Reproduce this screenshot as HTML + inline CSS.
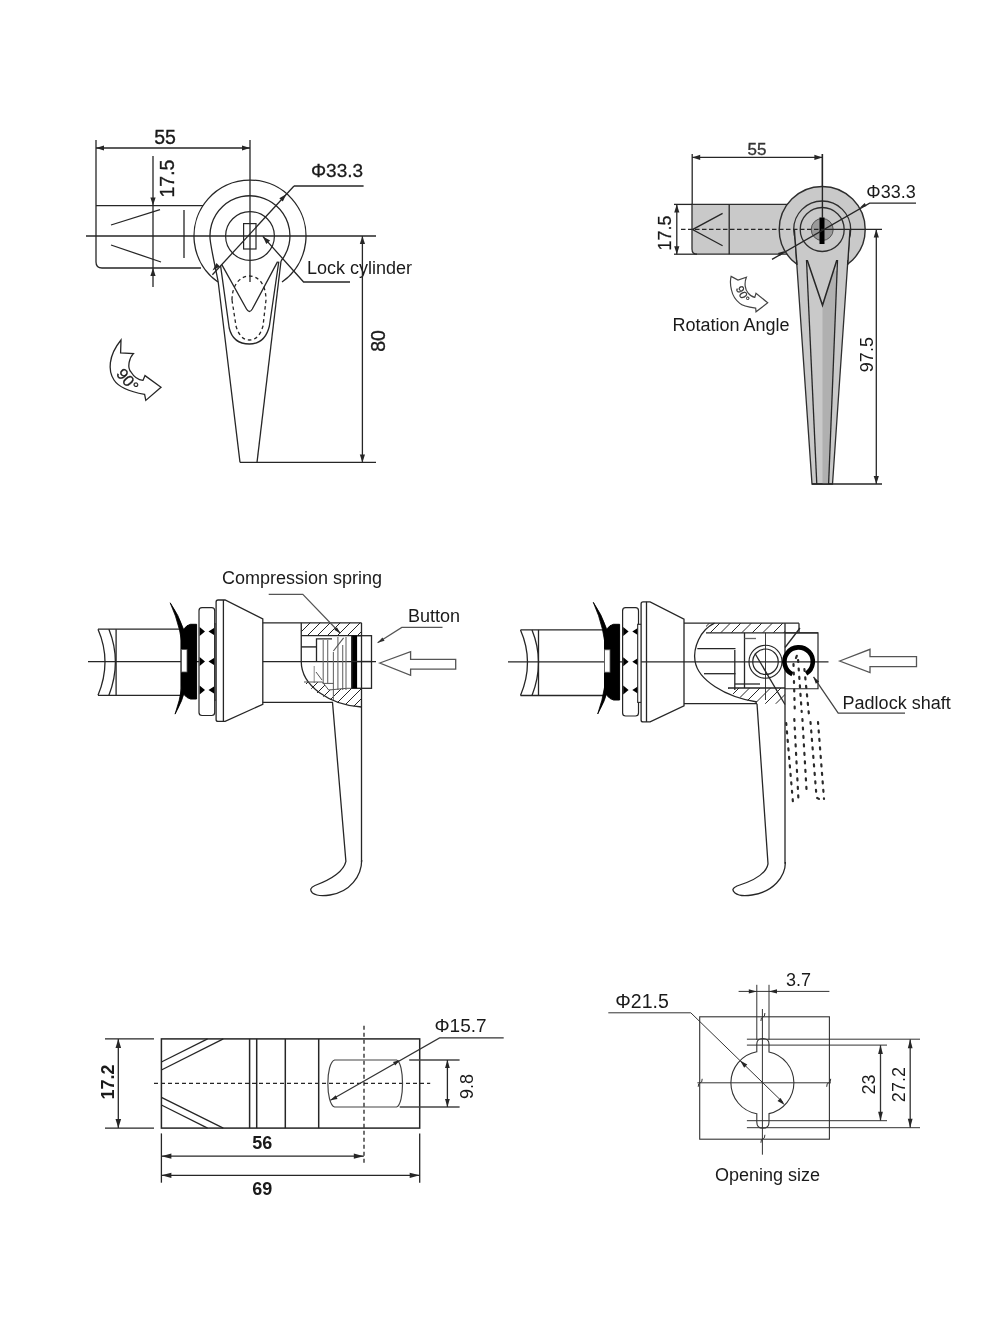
<!DOCTYPE html>
<html><head><meta charset="utf-8"><title>Lock drawing</title>
<style>html,body{margin:0;padding:0;background:#fff;} svg{display:block;will-change:transform;} text{font-family:"Liberation Sans",sans-serif;}</style>
</head><body>
<svg width="1000" height="1333" viewBox="0 0 1000 1333">
<rect width="1000" height="1333" fill="#fff"/>
<line x1="96.0" y1="140.0" x2="96.0" y2="262.0" stroke="#262626" stroke-width="1.3" />
<path d="M96,262 Q96,268 102,268 L201,268" stroke="#262626" stroke-width="1.3" fill="none" />
<line x1="96.0" y1="205.6" x2="203.0" y2="205.6" stroke="#262626" stroke-width="1.3" />
<line x1="250.0" y1="140.0" x2="250.0" y2="282.0" stroke="#262626" stroke-width="1.3" />
<line x1="96.0" y1="148.0" x2="250.0" y2="148.0" stroke="#262626" stroke-width="1.3" />
<polygon points="96.0,148.0 104.0,145.4 104.0,150.6" fill="#262626"/>
<polygon points="250.0,148.0 242.0,150.6 242.0,145.4" fill="#262626"/>
<text x="165" y="136.5" font-size="19.5" text-anchor="middle" font-weight="normal" fill="#1a1a1a" dominant-baseline="central" stroke="#1a1a1a" stroke-width="0.35">55</text>
<line x1="153.0" y1="156.0" x2="153.0" y2="287.0" stroke="#262626" stroke-width="1.3" />
<polygon points="153.0,205.6 150.4,197.6 155.6,197.6" fill="#262626"/>
<polygon points="153.0,268.0 155.6,276.0 150.4,276.0" fill="#262626"/>
<text x="166.5" y="178.5" font-size="19.5" text-anchor="middle" font-weight="normal" fill="#1a1a1a" dominant-baseline="central" transform="rotate(-90 166.5 178.5)" stroke="#1a1a1a" stroke-width="0.35">17.5</text>
<line x1="86.0" y1="236.0" x2="376.0" y2="236.0" stroke="#262626" stroke-width="1.3" />
<line x1="111.0" y1="225.0" x2="160.0" y2="209.6" stroke="#262626" stroke-width="1.3" />
<line x1="111.0" y1="245.0" x2="161.0" y2="262.0" stroke="#262626" stroke-width="1.3" />
<line x1="184.0" y1="210.0" x2="184.0" y2="258.0" stroke="#262626" stroke-width="1.3" />
<path d="M218,282 A56,56 0 1 1 282,282" stroke="#262626" stroke-width="1.3" fill="none" />
<path d="M210.6,243 A40,40 0 1 1 281,261" stroke="#262626" stroke-width="1.3" fill="none" />
<circle cx="250" cy="236" r="24.4" stroke="#262626" stroke-width="1.2" fill="none"/>
<rect x="243.6" y="223.6" width="12.4" height="25.4" stroke="#262626" stroke-width="1.2" fill="none"/>
<path d="M210.6,243 C213,258 216,270 218.2,282 L240,462.4" stroke="#262626" stroke-width="1.3" fill="none" />
<path d="M281,261 L257,462.4" stroke="#262626" stroke-width="1.3" fill="none" />
<line x1="240.0" y1="462.4" x2="376.0" y2="462.4" stroke="#262626" stroke-width="1.3" />
<path d="M220.6,265.8 L229.2,328 Q233,344 249.4,344 Q265,344 269.4,326 L278.8,261.6" stroke="#262626" stroke-width="1.3" fill="none" />
<path d="M221.8,264.6 L246.5,309 Q249.4,314 252.3,309 L277.6,261.6" stroke="#262626" stroke-width="1.3" fill="none" />
<path d="M232,300 C232,285 240,276 249.4,276 C259,276 266,285 266,300 L263,326 Q259,340 249.5,340 Q240,340 236,326 Z" stroke="#262626" stroke-width="1.3" fill="none" stroke-dasharray="3.5,3"/>
<line x1="212.4" y1="274.8" x2="294.0" y2="186.0" stroke="#262626" stroke-width="1.3" />
<line x1="294.0" y1="186.0" x2="363.6" y2="186.0" stroke="#262626" stroke-width="1.3" />
<polygon points="286.5,194.0 282.8,201.5 279.3,198.2" fill="#262626"/>
<polygon points="212.5,270.5 216.5,263.1 219.9,266.5" fill="#262626"/>
<text x="337" y="170" font-size="19" text-anchor="middle" font-weight="normal" fill="#1a1a1a" dominant-baseline="central" stroke="#1a1a1a" stroke-width="0.3">Φ33.3</text>
<path d="M262.8,236.4 L303.6,282 L350,282" stroke="#262626" stroke-width="1.3" fill="none" />
<polygon points="262.8,236.4 270.1,240.5 266.3,244.0" fill="#262626"/>
<text x="307" y="268" font-size="18" text-anchor="start" font-weight="normal" fill="#1a1a1a" dominant-baseline="central" >Lock cylinder</text>
<line x1="362.4" y1="236.0" x2="362.4" y2="462.4" stroke="#262626" stroke-width="1.3" />
<polygon points="362.4,236.0 365.0,244.0 359.8,244.0" fill="#262626"/>
<polygon points="362.4,462.4 359.8,454.4 365.0,454.4" fill="#262626"/>
<text x="377.5" y="341" font-size="19.5" text-anchor="middle" font-weight="normal" fill="#1a1a1a" dominant-baseline="central" transform="rotate(-90 377.5 341)" stroke="#1a1a1a" stroke-width="0.35">80</text>
<path d="M121,340 L120.6,352.8 L133.4,353.6 C129,358 127,368 131,372 C134,377 139,380 143,380.4 L145,375.6 L161,387.2 L145.8,400.4 L144.6,394.4 C132,392 119,388 114,380 C108,371 108,356 121,340 Z" stroke="#262626" stroke-width="1.3" fill="none" />
<text x="127.5" y="380" font-size="16" text-anchor="middle" font-weight="normal" fill="#1a1a1a" dominant-baseline="central" transform="rotate(50 127.5 380)" stroke="#1a1a1a" stroke-width="0.3">90°</text>
<line x1="692.2" y1="154.0" x2="692.2" y2="205.0" stroke="#262626" stroke-width="1.3" />
<line x1="822.4" y1="154.0" x2="822.4" y2="229.0" stroke="#262626" stroke-width="1.3" />
<line x1="692.2" y1="157.4" x2="822.4" y2="157.4" stroke="#262626" stroke-width="1.3" />
<polygon points="692.2,157.4 700.2,154.8 700.2,160.0" fill="#262626"/>
<polygon points="822.4,157.4 814.4,160.0 814.4,154.8" fill="#262626"/>
<text x="757" y="149.6" font-size="17" text-anchor="middle" font-weight="normal" fill="#333" dominant-baseline="central" stroke="#333" stroke-width="0.35">55</text>
<path d="M692,204.4 L790,204.4 L790,254.2 L697,254.2 Q692,254.2 692,249 Z" stroke="#2e2e2e" stroke-width="1.3" fill="#c9c9c9" />
<line x1="674.0" y1="204.4" x2="692.0" y2="204.4" stroke="#262626" stroke-width="1.3" />
<line x1="674.0" y1="254.2" x2="697.0" y2="254.2" stroke="#262626" stroke-width="1.3" />
<line x1="676.8" y1="204.4" x2="676.8" y2="254.2" stroke="#262626" stroke-width="1.3" />
<polygon points="676.8,204.4 679.4,212.4 674.2,212.4" fill="#262626"/>
<polygon points="676.8,254.2 674.2,246.2 679.4,246.2" fill="#262626"/>
<text x="665" y="233" font-size="18" text-anchor="middle" font-weight="normal" fill="#1a1a1a" dominant-baseline="central" transform="rotate(-90 665 233)" stroke="#1a1a1a" stroke-width="0.25">17.5</text>
<line x1="729.2" y1="204.4" x2="729.2" y2="254.2" stroke="#262626" stroke-width="1.3" />
<path d="M722.6,213.4 L692.5,229.6 L722.6,245.8" stroke="#262626" stroke-width="1.3" fill="none" />
<circle cx="822.2" cy="229.5" r="43" fill="#c9c9c9" stroke="#2e2e2e" stroke-width="1.4"/>
<path d="M794.4,229.5 L812,484 L832.5,484 L850,229.5 Z" stroke="#2e2e2e" stroke-width="1.3" fill="#c9c9c9" />
<path d="M822.5,305.3 L833.5,270.7 L837.1,270.7 L828.6,484 L822.5,484 Z" stroke="none" stroke-width="0" fill="#b0b0b0" />
<path d="M806.4,257.7 L816.8,484" stroke="#262626" stroke-width="1.3" fill="none" />
<path d="M837.6,257.7 L828.6,484" stroke="#262626" stroke-width="1.3" fill="none" />
<path d="M806.4,257.7 L822.5,305.3 L837.6,257.7" stroke="#262626" stroke-width="1.5" fill="none" />
<circle cx="822.2" cy="229.5" r="28.5" fill="#c9c9c9" stroke="#2e2e2e" stroke-width="1.3"/>
<path d="M794.4,229.5 L796.5,260 L848,260 L850,229.5 Z" stroke="none" stroke-width="0" fill="#c9c9c9" />
<path d="M794.4,229.5 L797,265" stroke="#262626" stroke-width="1.3" fill="none" />
<path d="M850,229.5 L847.6,265" stroke="#262626" stroke-width="1.3" fill="none" />
<circle cx="822.2" cy="229.5" r="22" fill="#c9c9c9" stroke="#2e2e2e" stroke-width="1.3"/>
<circle cx="822.2" cy="229.5" r="11" fill="#9a9a9a" stroke="#555" stroke-width="1"/>
<rect x="819.5" y="217.5" width="5" height="26.5" fill="#000"/>
<line x1="822.4" y1="154.0" x2="822.4" y2="218.0" stroke="#262626" stroke-width="1.4" />
<line x1="681.0" y1="229.4" x2="822.0" y2="229.4" stroke="#262626" stroke-width="1.3" stroke-dasharray="4.5,2.5"/>
<line x1="822.0" y1="229.4" x2="882.0" y2="229.4" stroke="#262626" stroke-width="1.3" />
<path d="M772,259.4 L869.6,203.2 L916,203.2" stroke="#262626" stroke-width="1.3" fill="none" />
<polygon points="859.5,208.0 864.7,203.0 866.5,206.1" fill="#262626"/>
<polygon points="784.9,251.0 779.8,256.1 777.9,253.0" fill="#262626"/>
<text x="891" y="191.6" font-size="18" text-anchor="middle" font-weight="normal" fill="#1a1a1a" dominant-baseline="central" >Φ33.3</text>
<line x1="812.0" y1="484.0" x2="882.0" y2="484.0" stroke="#262626" stroke-width="1.3" />
<line x1="876.3" y1="229.5" x2="876.3" y2="484.0" stroke="#262626" stroke-width="1.3" />
<polygon points="876.3,229.5 878.9,237.5 873.7,237.5" fill="#262626"/>
<polygon points="876.3,484.0 873.7,476.0 878.9,476.0" fill="#262626"/>
<text x="866.6" y="354.6" font-size="18" text-anchor="middle" font-weight="normal" fill="#1a1a1a" dominant-baseline="central" transform="rotate(-90 866.6 354.6)" >97.5</text>
<path d="M731.1,276.4 L738,280 L746.4,277.3 C744,283 745,290 748.2,293.2 C750,295.5 752,297 754.8,297.4 L756,293.2 L767.7,302.8 L756,311.8 L755.7,308.2 C748,307 742,305.5 739.8,303.4 C735,299.5 732.5,295 731.5,290 C730.2,285 730.2,280 731.1,276.4 Z" stroke="#444" stroke-width="1.2" fill="none" />
<text x="743" y="294" font-size="11" text-anchor="middle" font-weight="normal" fill="#333" dominant-baseline="central" transform="rotate(62 743 294)" stroke="#333" stroke-width="0.3">90°</text>
<text x="731" y="325" font-size="18" text-anchor="middle" font-weight="normal" fill="#1a1a1a" dominant-baseline="central" >Rotation Angle</text>
<line x1="88.0" y1="661.6" x2="376.0" y2="661.6" stroke="#262626" stroke-width="1.3" />
<line x1="98.0" y1="629.2" x2="181.0" y2="629.2" stroke="#262626" stroke-width="1.3" />
<line x1="98.0" y1="695.3" x2="181.0" y2="695.3" stroke="#262626" stroke-width="1.3" />
<path d="M98,629.2 Q112,661.6 98,695.3" stroke="#262626" stroke-width="1.3" fill="none" />
<path d="M108.9,629.2 Q121.9,661.6 108.9,695.3" stroke="#262626" stroke-width="1.3" fill="none" />
<line x1="116.1" y1="629.2" x2="116.1" y2="695.3" stroke="#262626" stroke-width="1.3" />
<line x1="181.0" y1="629.2" x2="181.0" y2="695.3" stroke="#262626" stroke-width="1.3" />
<path d="M170.2,602.8 A104,104 0 0 1 175.1,714.1 A150,150 0 0 0 170.2,602.8 Z" stroke="#000" stroke-width="0.8" fill="#000" />
<path d="M196.6,624.3 L190.5,624.3 Q182.5,626.3 181.5,637.3 L181.5,686 Q182.5,697 190.5,699 L196.6,699 Z" stroke="#000" stroke-width="1" fill="#000" />
<rect x="181.5" y="649.6" width="5.5" height="22.4" fill="#fff" stroke="#555" stroke-width="0.8"/>
<rect x="199" y="607.7" width="15.699999999999989" height="107.79999999999995" rx="3" fill="#fff" stroke="#262626" stroke-width="1.2"/>
<polygon points="199.6,626.9 205,631.4 199.6,635.9" fill="#000"/>
<polygon points="215.5,626.9 208.5,631.4 215.5,635.9" fill="#000"/>
<polygon points="199.6,657.1 205,661.6 199.6,666.1" fill="#000"/>
<polygon points="215.5,657.1 208.5,661.6 215.5,666.1" fill="#000"/>
<polygon points="199.6,685.4 205,689.9 199.6,694.4" fill="#000"/>
<polygon points="215.5,685.4 208.5,689.9 215.5,694.4" fill="#000"/>
<rect x="214.7" y="624" width="1.4000000000000057" height="76" fill="#fff" stroke="#262626" stroke-width="1.1"/>
<path d="M216.1,602 Q216.1,600 218.1,600 L225.1,600 L262.8,618.8 L262.8,704.3 L225.1,721.4 L218.1,721.4 Q216.1,721.4 216.1,719.4 Z" stroke="#262626" stroke-width="1.3" fill="#fff" />
<line x1="223.4" y1="600.0" x2="223.4" y2="721.4" stroke="#262626" stroke-width="1.3" />
<line x1="262.8" y1="622.8" x2="361.5" y2="622.8" stroke="#262626" stroke-width="1.3" />
<line x1="262.8" y1="702.3" x2="333.0" y2="702.3" stroke="#262626" stroke-width="1.3" />
<clipPath id="h1"><path d="M301.25,622.8 L361.5,622.8 L361.5,635.7 L301.25,635.7 Z"/></clipPath>
<path clip-path="url(#h1)" d="M287.0,636.0 L301.0,622.0 M297.0,636.0 L311.0,622.0 M307.0,636.0 L321.0,622.0 M317.0,636.0 L331.0,622.0 M327.0,636.0 L341.0,622.0 M337.0,636.0 L351.0,622.0 M347.0,636.0 L361.0,622.0 M357.0,636.0 L371.0,622.0 M367.0,636.0 L381.0,622.0" stroke="#262626" stroke-width="1.0" fill="none"/>
<clipPath id="h2"><path d="M304,682 L322.4,682 L328.7,690 L346.7,688.3 L361.5,688.3 L361.5,707 C340,706 318,697 304,682 Z"/></clipPath>
<path clip-path="url(#h2)" d="M272.0,708.0 L300.0,680.0 M282.0,708.0 L310.0,680.0 M292.0,708.0 L320.0,680.0 M302.0,708.0 L330.0,680.0 M312.0,708.0 L340.0,680.0 M322.0,708.0 L350.0,680.0 M332.0,708.0 L360.0,680.0 M342.0,708.0 L370.0,680.0 M352.0,708.0 L380.0,680.0 M362.0,708.0 L390.0,680.0 M372.0,708.0 L400.0,680.0 M382.0,708.0 L410.0,680.0" stroke="#262626" stroke-width="1.0" fill="none"/>
<path d="M301.25,622.8 L301.25,661.5 C301.25,686 330,705 361.5,707" stroke="#262626" stroke-width="1.3" fill="none" />
<line x1="301.2" y1="635.7" x2="361.5" y2="635.7" stroke="#262626" stroke-width="1.3" />
<line x1="301.2" y1="646.9" x2="316.5" y2="646.9" stroke="#262626" stroke-width="1.4" />
<path d="M316.5,661.5 L316.5,638.8 L332,638.8" stroke="#262626" stroke-width="1.3" fill="none" />
<line x1="323.2" y1="640.0" x2="323.2" y2="683.0" stroke="#6a6a6a" stroke-width="1.1" />
<line x1="327.7" y1="640.0" x2="327.7" y2="683.0" stroke="#6a6a6a" stroke-width="1.1" />
<line x1="333.4" y1="652.0" x2="333.4" y2="700.0" stroke="#6a6a6a" stroke-width="1.1" />
<line x1="337.9" y1="637.0" x2="337.9" y2="690.0" stroke="#6a6a6a" stroke-width="1.1" />
<line x1="342.7" y1="645.0" x2="342.7" y2="690.0" stroke="#6a6a6a" stroke-width="1.1" />
<line x1="346.0" y1="637.0" x2="346.0" y2="690.0" stroke="#6a6a6a" stroke-width="1.1" />
<line x1="333.4" y1="651.0" x2="343.6" y2="637.8" stroke="#555" stroke-width="1.1" />
<line x1="314.2" y1="666.0" x2="314.2" y2="683.0" stroke="#888" stroke-width="1.0" />
<line x1="316.0" y1="672.0" x2="322.0" y2="680.0" stroke="#555" stroke-width="1.0" />
<line x1="322.6" y1="683.4" x2="333.4" y2="683.4" stroke="#555" stroke-width="1.0" />
<path d="M304,682 L322.4,682 L328.7,690 L346.7,688.3 L351.7,688.3" stroke="#555" stroke-width="1.0" fill="none" />
<line x1="361.5" y1="622.8" x2="361.5" y2="862.0" stroke="#262626" stroke-width="1.3" />
<rect x="351.7" y="635.7" width="19.8" height="52.6" fill="none" stroke="#262626" stroke-width="1.3"/>
<rect x="352.1" y="635.7" width="5" height="52.6" fill="#000"/>
<line x1="351.7" y1="661.5" x2="371.5" y2="661.5" stroke="#262626" stroke-width="1.3" />
<path d="M332.5,702.3 L345.9,861.4 C343,874 327,881 315,885.5 Q308,888.5 312.5,893 Q318,897 330,895 C350,892 361.7,876 361.7,860" stroke="#262626" stroke-width="1.3" fill="none" />
<path d="M268.7,594.4 L302.8,594.4 L340,633" stroke="#555" stroke-width="1.2" fill="none" />
<polygon points="340.5,633.5 334.3,629.7 336.9,627.2" fill="#222"/>
<path d="M377.6,642.8 L401.8,627.4 L442.5,627.4" stroke="#555" stroke-width="1.2" fill="none" />
<polygon points="377.6,642.8 382.4,637.4 384.6,640.7" fill="#333"/>
<polygon points="379.8,663 410.6,651.6 410.6,659.3 455.7,659.3 455.7,669.2 410.6,669.2 410.6,675.4" fill="#fff" stroke="#555" stroke-width="1.3"/>
<text x="302" y="578" font-size="18" text-anchor="middle" font-weight="normal" fill="#1a1a1a" dominant-baseline="central" >Compression spring</text>
<text x="408" y="616" font-size="18" text-anchor="start" font-weight="normal" fill="#1a1a1a" dominant-baseline="central" >Button</text>
<line x1="508.0" y1="661.8" x2="828.5" y2="661.8" stroke="#262626" stroke-width="1.3" />
<line x1="520.5" y1="629.9" x2="605.0" y2="629.9" stroke="#262626" stroke-width="1.3" />
<line x1="520.5" y1="695.5" x2="605.0" y2="695.5" stroke="#262626" stroke-width="1.3" />
<path d="M520.5,629.9 Q534.5,661.8 520.5,695.5" stroke="#262626" stroke-width="1.3" fill="none" />
<path d="M532,629.9 Q545,661.8 532,695.5" stroke="#262626" stroke-width="1.3" fill="none" />
<line x1="538.5" y1="629.9" x2="538.5" y2="695.5" stroke="#262626" stroke-width="1.3" />
<line x1="605.0" y1="629.9" x2="605.0" y2="695.5" stroke="#262626" stroke-width="1.3" />
<path d="M593.3,602.3 A104,104 0 0 1 597.7,714 A150,150 0 0 0 593.3,602.3 Z" stroke="#000" stroke-width="0.8" fill="#000" />
<path d="M619.6,624.3 L613.5,624.3 Q605.5,626.3 604.5,637.3 L604.5,687 Q605.5,698 613.5,700 L619.6,700 Z" stroke="#000" stroke-width="1" fill="#000" />
<rect x="604.5" y="649.8" width="5.5" height="22.4" fill="#fff" stroke="#555" stroke-width="0.8"/>
<rect x="622.6" y="607.7" width="15.899999999999977" height="108.29999999999995" rx="3" fill="#fff" stroke="#262626" stroke-width="1.2"/>
<polygon points="623.2,627.0999999999999 628.6,631.5999999999999 623.2,636.0999999999999" fill="#000"/>
<polygon points="639.3,627.0999999999999 632.3,631.5999999999999 639.3,636.0999999999999" fill="#000"/>
<polygon points="623.2,657.3 628.6,661.8 623.2,666.3" fill="#000"/>
<polygon points="639.3,657.3 632.3,661.8 639.3,666.3" fill="#000"/>
<polygon points="623.2,685.5999999999999 628.6,690.0999999999999 623.2,694.5999999999999" fill="#000"/>
<polygon points="639.3,685.5999999999999 632.3,690.0999999999999 639.3,694.5999999999999" fill="#000"/>
<rect x="637.7" y="624.3" width="3.8999999999999773" height="78.10000000000002" fill="#fff" stroke="#262626" stroke-width="1.1"/>
<path d="M641.1,603.8 Q641.1,601.8 643.1,601.8 L650.1,601.8 L684,619.2 L684,705.9 L650.1,721.9 L643.1,721.9 Q641.1,721.9 641.1,719.9 Z" stroke="#262626" stroke-width="1.3" fill="#fff" />
<line x1="646.5" y1="601.8" x2="646.5" y2="721.9" stroke="#262626" stroke-width="1.3" />
<line x1="641.1" y1="661.8" x2="684.0" y2="661.8" stroke="#262626" stroke-width="1.3" />
<line x1="684.0" y1="623.2" x2="799.0" y2="623.2" stroke="#262626" stroke-width="1.3" />
<line x1="684.0" y1="703.7" x2="757.0" y2="703.7" stroke="#262626" stroke-width="1.3" />
<clipPath id="h3"><path d="M706,623.2 L785,623.2 L785,632.8 L706,632.8 Z"/></clipPath>
<path clip-path="url(#h3)" d="M688.0,634.0 L700.0,622.0 M698.5,634.0 L710.5,622.0 M709.0,634.0 L721.0,622.0 M719.5,634.0 L731.5,622.0 M730.0,634.0 L742.0,622.0 M740.5,634.0 L752.5,622.0 M751.0,634.0 L763.0,622.0 M761.5,634.0 L773.5,622.0 M772.0,634.0 L784.0,622.0 M782.5,634.0 L794.5,622.0 M793.0,634.0 L805.0,622.0" stroke="#262626" stroke-width="1.0" fill="none"/>
<clipPath id="h4"><path d="M728,688 L785,688 L785,703.7 L757,703.7 C745,700 735,696 728,690 Z"/></clipPath>
<path clip-path="url(#h4)" d="M701.0,705.0 L720.0,686.0 M711.5,705.0 L730.5,686.0 M722.0,705.0 L741.0,686.0 M732.5,705.0 L751.5,686.0 M743.0,705.0 L762.0,686.0 M753.5,705.0 L772.5,686.0 M764.0,705.0 L783.0,686.0 M774.5,705.0 L793.5,686.0 M785.0,705.0 L804.0,686.0 M795.5,705.0 L814.5,686.0" stroke="#262626" stroke-width="1.0" fill="none"/>
<path d="M714.5,623.2 C700,630 693,648 695,661 C698,680 725,697 757,702" stroke="#262626" stroke-width="1.3" fill="none" />
<line x1="706.0" y1="632.8" x2="818.0" y2="632.8" stroke="#262626" stroke-width="1.3" />
<line x1="697.3" y1="648.7" x2="735.5" y2="648.7" stroke="#262626" stroke-width="1.3" />
<line x1="704.0" y1="673.7" x2="735.5" y2="673.7" stroke="#262626" stroke-width="1.3" />
<line x1="734.8" y1="650.0" x2="734.8" y2="690.0" stroke="#262626" stroke-width="1.3" />
<line x1="744.5" y1="632.8" x2="744.5" y2="688.0" stroke="#262626" stroke-width="1.3" />
<line x1="744.5" y1="638.5" x2="756.0" y2="638.5" stroke="#666" stroke-width="1.3" />
<line x1="735.0" y1="684.0" x2="760.0" y2="684.0" stroke="#262626" stroke-width="1.3" />
<line x1="728.0" y1="688.0" x2="785.0" y2="688.0" stroke="#262626" stroke-width="1.3" />
<circle cx="765.5" cy="661.75" r="16.5" fill="none" stroke="#262626" stroke-width="1.2"/>
<circle cx="765.5" cy="661.75" r="12.75" fill="none" stroke="#262626" stroke-width="1.2"/>
<line x1="765.5" y1="632.8" x2="765.5" y2="700.0" stroke="#262626" stroke-width="0.9" />
<line x1="755.0" y1="653.5" x2="785.0" y2="704.5" stroke="#262626" stroke-width="1.3" />
<line x1="785.0" y1="623.2" x2="785.0" y2="863.8" stroke="#262626" stroke-width="1.3" />
<line x1="799.0" y1="623.2" x2="799.0" y2="632.8" stroke="#262626" stroke-width="1.3" />
<path d="M785,632.8 L818,632.8 L818,688.75 L785,688.75" stroke="#262626" stroke-width="1.2" fill="none" />
<line x1="800.0" y1="628.0" x2="785.0" y2="647.5" stroke="#262626" stroke-width="1.3" />
<path d="M792.4,674.3 A14.2,14.2 0 1 1 806.1,673.6" stroke="#000" stroke-width="4.6" fill="none" />
<path d="M793.5,664 L794.8,712 M796,658 Q798,652 799,652 M798.1,660 L801.7,712 M804.4,669 L808.9,714 M786.2,723 L793,803 L795,803 M794.3,719 L798.4,799 M802.4,719 L806.5,789.5 M810.5,722 L816.6,797.6 L821,800 M818,722 L824,799" stroke="#2a2a2a" stroke-width="2.2" stroke-linecap="round" fill="none" stroke-dasharray="2,6.5"/>
<path d="M813.5,676.9 L838.2,713.1 L905,713.1" stroke="#444" stroke-width="1.3" fill="none" />
<polygon points="813.5,676.9 819.1,681.6 815.8,683.8" fill="#222"/>
<polygon points="839.7,661 870,649.3 870,656.6 916.5,656.6 916.5,666.7 870,666.7 870,672.5" fill="#fff" stroke="#555" stroke-width="1.3"/>
<text x="842.6" y="703" font-size="18" text-anchor="start" font-weight="normal" fill="#1a1a1a" dominant-baseline="central" >Padlock shaft</text>
<path d="M757,703.7 L768,863.8 C766,875 750,882 737,886 Q730,889 735,893 Q740,897 752,895 C773,892 785.4,877 785.4,862" stroke="#262626" stroke-width="1.3" fill="none" />
<rect x="161.4" y="1038.9" width="258.3" height="89.2" fill="none" stroke="#262626" stroke-width="1.5"/>
<line x1="105.0" y1="1038.9" x2="154.0" y2="1038.9" stroke="#262626" stroke-width="1.3" />
<line x1="105.0" y1="1128.1" x2="154.0" y2="1128.1" stroke="#262626" stroke-width="1.3" />
<line x1="118.3" y1="1038.9" x2="118.3" y2="1128.1" stroke="#262626" stroke-width="1.3" />
<polygon points="118.3,1038.9 121.1,1047.9 115.5,1047.9" fill="#262626"/>
<polygon points="118.3,1128.1 115.5,1119.1 121.1,1119.1" fill="#262626"/>
<text x="107.5" y="1082" font-size="18" text-anchor="middle" font-weight="bold" fill="#1a1a1a" dominant-baseline="central" transform="rotate(-90 107.5 1082)" >17.2</text>
<line x1="154.0" y1="1083.4" x2="430.2" y2="1083.4" stroke="#262626" stroke-width="1.3" stroke-dasharray="4,3"/>
<line x1="161.4" y1="1062.0" x2="207.6" y2="1038.9" stroke="#262626" stroke-width="1.3" />
<line x1="161.4" y1="1070.0" x2="223.3" y2="1038.9" stroke="#262626" stroke-width="1.3" />
<line x1="161.4" y1="1097.3" x2="223.3" y2="1128.1" stroke="#262626" stroke-width="1.3" />
<line x1="161.4" y1="1105.0" x2="207.6" y2="1128.1" stroke="#262626" stroke-width="1.3" />
<line x1="249.6" y1="1038.9" x2="249.6" y2="1128.1" stroke="#262626" stroke-width="1.5" />
<line x1="256.7" y1="1038.9" x2="256.7" y2="1128.1" stroke="#262626" stroke-width="1.5" />
<line x1="285.3" y1="1038.9" x2="285.3" y2="1128.1" stroke="#262626" stroke-width="1.5" />
<line x1="318.7" y1="1038.9" x2="318.7" y2="1128.1" stroke="#262626" stroke-width="1.5" />
<path d="M334.6,1060 L396.6,1060 C404.5,1063 404.5,1104 396.6,1107 L334.6,1107 C325.6,1104 325.6,1063 334.6,1060 Z" stroke="#444" stroke-width="1.2" fill="none" />
<line x1="364.0" y1="1025.7" x2="364.0" y2="1163.8" stroke="#262626" stroke-width="1.3" stroke-dasharray="4,3"/>
<path d="M330.4,1100.3 L439.6,1037.9 L503.7,1037.9" stroke="#333" stroke-width="1.1" fill="none" />
<polygon points="330.4,1100.3 335.7,1095.3 337.5,1098.9" fill="#262626"/>
<polygon points="400.0,1060.0 395.2,1065.5 393.0,1062.1" fill="#262626"/>
<text x="460.5" y="1025" font-size="19" text-anchor="middle" font-weight="normal" fill="#1a1a1a" dominant-baseline="central" >Φ15.7</text>
<line x1="409.2" y1="1060.0" x2="459.6" y2="1060.0" stroke="#444" stroke-width="1.3" />
<line x1="399.7" y1="1107.0" x2="459.6" y2="1107.0" stroke="#444" stroke-width="1.3" />
<line x1="447.4" y1="1060.0" x2="447.4" y2="1107.0" stroke="#262626" stroke-width="1.3" />
<polygon points="447.4,1060.0 449.8,1068.0 445.0,1068.0" fill="#262626"/>
<polygon points="447.4,1107.0 445.0,1099.0 449.8,1099.0" fill="#262626"/>
<text x="467" y="1086.5" font-size="18" text-anchor="middle" font-weight="normal" fill="#1a1a1a" dominant-baseline="central" transform="rotate(-90 467 1086.5)" >9.8</text>
<line x1="161.4" y1="1133.4" x2="161.4" y2="1182.7" stroke="#262626" stroke-width="1.3" />
<line x1="419.7" y1="1133.4" x2="419.7" y2="1182.7" stroke="#262626" stroke-width="1.3" />
<line x1="161.4" y1="1156.2" x2="363.8" y2="1156.2" stroke="#262626" stroke-width="1.3" />
<polygon points="161.4,1156.2 171.4,1153.6 171.4,1158.8" fill="#262626"/>
<polygon points="363.8,1156.2 353.8,1158.8 353.8,1153.6" fill="#262626"/>
<line x1="161.4" y1="1175.3" x2="419.7" y2="1175.3" stroke="#262626" stroke-width="1.3" />
<polygon points="161.4,1175.3 171.4,1172.7 171.4,1177.9" fill="#262626"/>
<polygon points="419.7,1175.3 409.7,1177.9 409.7,1172.7" fill="#262626"/>
<text x="262.2" y="1142.8" font-size="18" text-anchor="middle" font-weight="bold" fill="#1a1a1a" dominant-baseline="central" >56</text>
<text x="262.2" y="1189" font-size="18" text-anchor="middle" font-weight="bold" fill="#1a1a1a" dominant-baseline="central" >69</text>
<rect x="699.7" y="1016.8" width="129.7" height="122.4" fill="none" stroke="#333" stroke-width="1.1"/>
<path d="M756.8,1051.8 L756.8,1044 Q756.8,1038.5 762.9,1038.5 Q769,1038.5 769,1044 L769,1052 A31.5,31.5 0 0 1 769,1113.6 L769,1122 Q769,1128.3 762.9,1128.3 Q756.8,1128.3 756.8,1122 L756.8,1113.8 A31.5,31.5 0 0 1 756.8,1051.8 Z" stroke="#333" stroke-width="1.1" fill="none" />
<path d="M760.9,1021 Q760.9,1017 762.9,1017 Q764.9,1017 764.9,1013" stroke="#333" stroke-width="1.0" fill="none" />
<path d="M698.2,1086.8 Q698.2,1082.8 700.2,1082.8 Q702.2,1082.8 702.2,1078.8" stroke="#333" stroke-width="1.0" fill="none" />
<path d="M826.7,1086.8 Q826.7,1082.8 828.7,1082.8 Q830.7,1082.8 830.7,1078.8" stroke="#333" stroke-width="1.0" fill="none" />
<path d="M760.9,1142.8 Q760.9,1138.8 762.9,1138.8 Q764.9,1138.8 764.9,1134.8" stroke="#333" stroke-width="1.0" fill="none" />
<line x1="746.9" y1="1039.2" x2="920.0" y2="1039.2" stroke="#333" stroke-width="1.0" />
<line x1="746.9" y1="1045.1" x2="887.0" y2="1045.1" stroke="#333" stroke-width="1.0" />
<line x1="746.9" y1="1120.7" x2="887.0" y2="1120.7" stroke="#333" stroke-width="1.0" />
<line x1="746.9" y1="1127.7" x2="920.0" y2="1127.7" stroke="#333" stroke-width="1.0" />
<line x1="697.4" y1="1082.8" x2="831.0" y2="1082.8" stroke="#333" stroke-width="1.0" />
<line x1="762.4" y1="1009.0" x2="762.4" y2="1154.7" stroke="#333" stroke-width="1.0" />
<line x1="756.8" y1="984.8" x2="756.8" y2="1040.0" stroke="#333" stroke-width="1.0" />
<line x1="769.0" y1="984.8" x2="769.0" y2="1040.0" stroke="#333" stroke-width="1.0" />
<line x1="738.6" y1="991.4" x2="829.4" y2="991.4" stroke="#333" stroke-width="1.0" />
<polygon points="756.8,991.4 748.8,993.6 748.8,989.2" fill="#262626"/>
<polygon points="769.0,991.4 777.0,989.2 777.0,993.6" fill="#262626"/>
<text x="798.5" y="979.8" font-size="18" text-anchor="middle" font-weight="normal" fill="#1a1a1a" dominant-baseline="central" >3.7</text>
<text x="642" y="1001.3" font-size="19.5" text-anchor="middle" font-weight="normal" fill="#1a1a1a" dominant-baseline="central" >Φ21.5</text>
<path d="M608.3,1012.8 L690.8,1012.8 L783.2,1102.6" stroke="#333" stroke-width="1.0" fill="none" />
<polygon points="740.1,1060.5 747.3,1064.6 744.2,1067.7" fill="#262626"/>
<polygon points="784.7,1105.1 777.5,1101.0 780.6,1097.9" fill="#262626"/>
<line x1="880.5" y1="1045.1" x2="880.5" y2="1120.7" stroke="#333" stroke-width="1.3" />
<polygon points="880.5,1045.1 882.9,1054.1 878.1,1054.1" fill="#262626"/>
<polygon points="880.5,1120.7 878.1,1111.7 882.9,1111.7" fill="#262626"/>
<text x="869" y="1084.6" font-size="18" text-anchor="middle" font-weight="normal" fill="#1a1a1a" dominant-baseline="central" transform="rotate(-90 869 1084.6)" >23</text>
<line x1="910.2" y1="1039.2" x2="910.2" y2="1127.7" stroke="#333" stroke-width="1.3" />
<polygon points="910.2,1039.2 912.6,1048.2 907.8,1048.2" fill="#262626"/>
<polygon points="910.2,1127.7 907.8,1118.7 912.6,1118.7" fill="#262626"/>
<text x="898.7" y="1084.6" font-size="18" text-anchor="middle" font-weight="normal" fill="#1a1a1a" dominant-baseline="central" transform="rotate(-90 898.7 1084.6)" >27.2</text>
<text x="767.5" y="1174.5" font-size="18" text-anchor="middle" font-weight="normal" fill="#1a1a1a" dominant-baseline="central" >Opening size</text>
</svg>
</body></html>
